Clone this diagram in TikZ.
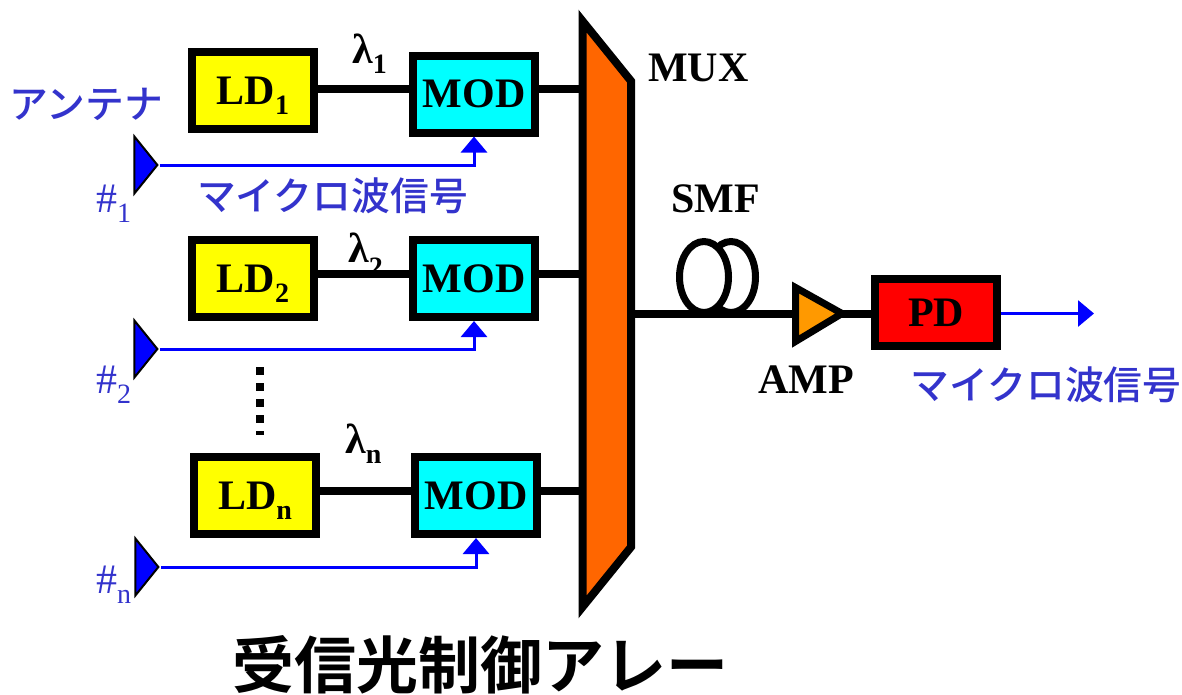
\documentclass[tikz,border=0pt]{standalone}
\usepackage{fontspec}
\setmainfont{Liberation Serif}
\newfontfamily\jpfont{Noto Sans CJK JP Medium}
\newfontfamily\jpbold{Noto Sans CJK JP Bold}
\usetikzlibrary{positioning,shapes.geometric,arrows.meta}
\definecolor{sigblue}{HTML}{3333CC}
\definecolor{muxorange}{HTML}{FF6600}
\definecolor{amporange}{HTML}{FF9900}
\definecolor{ldyellow}{HTML}{FFFF00}
\definecolor{modcyan}{HTML}{00FFFF}
\definecolor{pdred}{HTML}{FF0000}
\definecolor{antblue}{HTML}{0000FF}
\newcommand{\subidx}[1]{\raisebox{-10pt}[0pt][0pt]{\fontsize{28}{28}\selectfont #1}}

\begin{document}
\begin{tikzpicture}[
  x=1pt,y=-1pt,
  box/.style={draw,line width=8pt,minimum width=122pt,minimum height=77pt,inner sep=0pt,font=\fontsize{42}{42}\selectfont\bfseries},
  ldnode/.style={box,fill=ldyellow},
  modnode/.style={box,fill=modcyan},
  antnode/.style={shape=isosceles triangle,isosceles triangle stretches,draw,line width=2pt,fill=antblue,inner sep=0pt,minimum width=57pt,minimum height=23pt,anchor=apex},
  fibre/.style={line width=8pt},
  sig/.style={draw=antblue,line width=3pt,-{Triangle[width=26pt,length=16pt]}},
  lbl/.style={inner sep=0pt,anchor=base west,font=\fontsize{42}{42}\selectfont\bfseries},
  numlbl/.style={inner sep=0pt,anchor=base west,text=sigblue,font=\fontsize{42}{42}\selectfont},
  jplbl/.style={inner sep=0pt,text=sigblue,font=\fontsize{38.8}{38.8}\selectfont\jpfont}
]
\useasboundingbox (0,0) rectangle (1182,694);

% labels under the lines
\node[lbl] (lam1) at (352,63) {λ\subidx{1}};
\node[lbl] (lam2) at (348,262) {λ\raisebox{-4pt}{\subidx{2}}};
\node[lbl] (lamn) at (345,453) {λ\subidx{n}};

% sources and modulators
\node[ldnode] (ld1) at (253,90.5) {LD\subidx{1}};
\node[ldnode,below=103pt of ld1] (ld2) {LD\subidx{2}};
\node[ldnode,below=132pt of ld2,xshift=2pt] (ldn) {LD\subidx{n}};
\node[modnode,right=91pt of ld1,yshift=-3.5pt] (mod1) {MOD};
\node[modnode,right=91pt of ld2] (mod2) {MOD};
\node[modnode,right=91pt of ldn] (modn) {MOD};

% multiplexer
\coordinate (muxtl) at (582.5,21);
\coordinate (muxtr) at (631,81);
\coordinate (muxbr) at (631,547);
\coordinate (muxbl) at (582.5,607);
\draw[line width=8pt,fill=muxorange,miter limit=10] (muxtl) -- (muxtr) -- (muxbr) -- (muxbl) -- cycle;

\draw[fibre] ([yshift=1.5pt]ld1.east) -- ([yshift=5pt]mod1.west);
\draw[fibre] ([yshift=5pt]ld2.east) -- ([yshift=5pt]mod2.west);
\draw[fibre] ([yshift=4.5pt]ldn.east) -- ([yshift=4.5pt]modn.west);
\draw[fibre] ([yshift=5pt]mod1.east) -- ([yshift=5pt]mod1.east -| muxtl);
\draw[fibre] ([yshift=5pt]mod2.east) -- ([yshift=5pt]mod2.east -| muxtl);
\draw[fibre] ([yshift=4.5pt]modn.east) -- ([yshift=4.5pt]modn.east -| muxtl);

% antennas
\node[antnode] (ant1) at (160,165) {};
\node[antnode] (ant2) at (160,349) {};
\node[antnode] (antn) at (161,567) {};
\draw[sig] (ant1.apex) -| (mod1.south);
\draw[sig] (ant2.apex) -| (mod2.south);
\draw[sig] (antn.apex) -| (modn.south);
\draw[line width=8pt,dash pattern=on 8pt off 8pt] (260,367) coordinate (dotst) -- (260,435) coordinate (dotend);

% fibre coil, amplifier, detector
\coordinate (muxout) at (631,313.5);
\node[draw,line width=7pt,ellipse,minimum width=49pt,minimum height=71pt,inner sep=0pt] (coilb) at (731,277) {};
\node[draw,line width=7pt,ellipse,fill=white,minimum width=49pt,minimum height=71pt,inner sep=0pt] (coilf) at (704,277) {};
\coordinate (ampl) at (795.5,313.5);
\coordinate (ampt) at (795.5,287.5);
\coordinate (ampb) at (795.5,341.5);
\coordinate (ampa) at (842,313.5);
\node[box,fill=pdred,minimum height=67pt] (pd) at (936,312.5) {PD};
\draw[fibre] (muxout) -- (ampl);
\draw[fibre] (ampa) -- (ampa -| pd.west);
\draw[line width=7pt,fill=amporange,miter limit=10] (ampt) -- (ampa) -- (ampb) -- cycle;
\coordinate (sigout) at (1094,313.5);
\draw[sig] (pd.east |- sigout) -- (sigout);

% texts
\node[lbl] (muxlbl) at (648,81) {MUX};
\node[lbl] (smflbl) at (671,212) {SMF};
\node[lbl] (amplbl) at (758,393) {AMP};
\node[numlbl] (num1) at (96,212) {\#\subidx{1}};
\node[numlbl] (num2) at (96,393) {\#\subidx{2}};
\node[numlbl] (numn) at (96,593) {\#\subidx{n}};
\node[jplbl] (antlbl) at (86,104) {アンテナ};
\node[jplbl] (siglbl1) at (332.5,196) {マイクロ波信号};
\node[jplbl] (siglbl2) at (1046,385) {マイクロ波信号};
\node[inner sep=0pt,font=\fontsize{62}{62}\selectfont\jpbold] (title) at (480,665) {受信光制御アレー};
\end{tikzpicture}
\end{document}
